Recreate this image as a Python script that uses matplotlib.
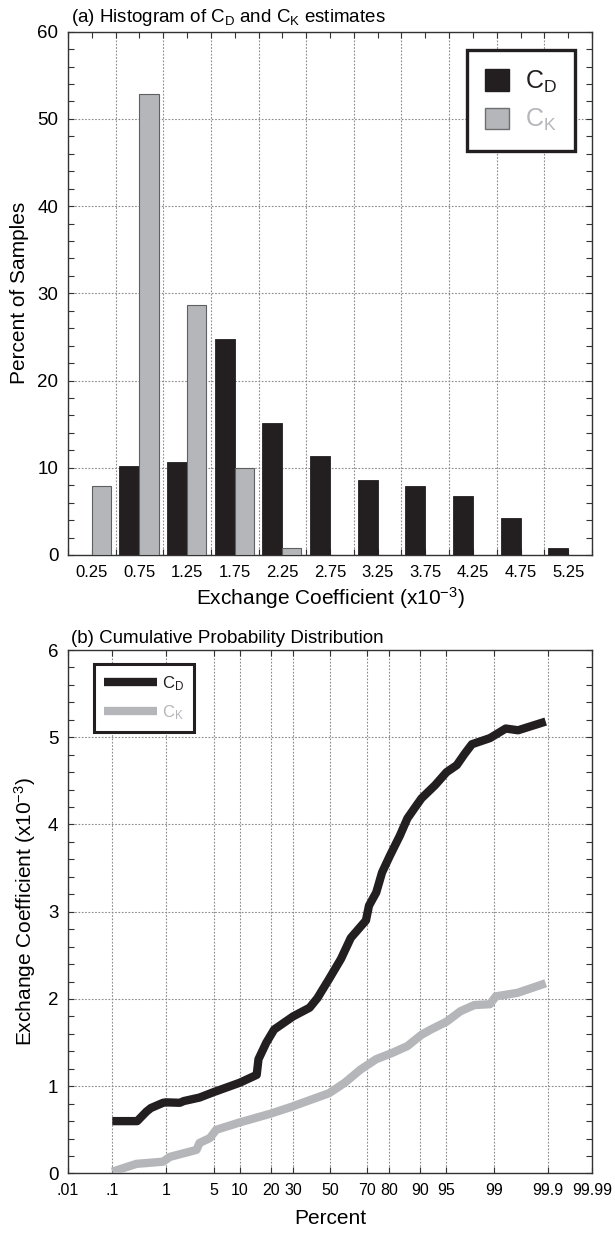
from statistics import NormalDist

import numpy as np
from matplotlib import pyplot as plt
from matplotlib.lines import Line2D
from matplotlib.patches import Patch
from matplotlib.ticker import FixedLocator, MultipleLocator

plt.rcParams['font.family'] = ['Liberation Sans', 'DejaVu Sans']

# (a) histogram, percent of samples per bin
bin_centers = [0.25, 0.75, 1.25, 1.75, 2.25, 2.75, 3.25, 3.75, 4.25, 4.75, 5.25]
bin_labels = ['0.25', '0.75', '1.25', '1.75', '2.25', '2.75', '3.25', '3.75', '4.25', '4.75', '5.25']
cd_pct = [0, 10.2, 10.7, 24.8, 15.1, 11.4, 8.6, 7.9, 6.8, 4.2, 0.8]
ck_pct = [7.9, 52.8, 28.7, 10.0, 0.8, 0, 0, 0, 0, 0, 0]

# (b) cumulative distribution, percentile vs coefficient
cd_prob = [0.1, 0.31, 0.46, 0.55, 0.89, 1.0, 1.65, 1.9, 3.2, 4.85, 10, 14.9, 15.5, 18.3,
           21.4, 30, 38.6, 42.9, 49.5, 56.2, 61.6, 69.5, 71.0, 74.4, 77.0, 80.2, 83.9,
           86.4, 88.7, 90.3, 93.2, 95.1, 96.4, 97.2, 97.8, 98.84, 99.37, 99.62, 99.89]
cd_val = [0.60, 0.60, 0.71, 0.75, 0.81, 0.815, 0.81, 0.83, 0.87, 0.93, 1.04, 1.13, 1.31, 1.50,
          1.65, 1.80, 1.90, 2.01, 2.23, 2.46, 2.70, 2.90, 3.07, 3.22, 3.45, 3.64, 3.87,
          4.07, 4.20, 4.30, 4.45, 4.60, 4.68, 4.81, 4.92, 4.99, 5.10, 5.08, 5.18]
ck_prob = [0.1, 0.30, 0.89, 1.15, 2.08, 2.9, 3.2, 4.4, 5.3, 10, 19.9, 30, 32.3, 49.5, 58.3,
           66.7, 74.4, 81, 86.4, 90.3, 92.4, 95.1, 96.8, 97.97, 98.84, 99.07, 99.61, 99.89]
ck_val = [0.02, 0.11, 0.135, 0.19, 0.24, 0.27, 0.35, 0.405, 0.50, 0.585, 0.685, 0.77, 0.79, 0.92,
          1.04, 1.19, 1.31, 1.38, 1.46, 1.59, 1.65, 1.74, 1.86, 1.93, 1.94, 2.03, 2.07, 2.18]
prob_ticks = [0.01, 0.1, 1, 5, 10, 20, 30, 50, 70, 80, 90, 95, 99, 99.9, 99.99]
prob_labels = ['.01', '.1', '1', '5', '10', '20', '30', '50', '70', '80', '90', '95', '99', '99.9', '99.99']

BLACK = '#231f20'
GRAY = '#b5b6b9'
GRID = dict(color='#8a8a8a', linestyle=(0, (1.5, 1.5)), linewidth=0.8)
TITLE_FONT = ['Liberation Sans Narrow', 'Liberation Sans']

nd = NormalDist()
_ppf = np.vectorize(nd.inv_cdf, otypes=[float])
_cdf = np.vectorize(nd.cdf, otypes=[float])


def prob_fwd(p):
    p = np.clip(np.asarray(p, dtype=float) / 100.0, 1e-9, 1 - 1e-9)
    return _ppf(p)


def prob_inv(z):
    return _cdf(np.asarray(z, dtype=float)) * 100.0


def style_axes(ax):
    for s in ax.spines.values():
        s.set_color('#333333')
        s.set_linewidth(1.0)
    ax.tick_params(which='both', direction='in', top=True, right=True, length=4,
                   width=0.8, color='#333333')


fig = plt.figure(figsize=(6.15, 12.36), dpi=100)

# ---- (a) histogram
ax1 = fig.add_axes([0.1106, 0.551, 0.852, 0.4234])
x = np.array(bin_centers)
cd = np.array(cd_pct)
ck = np.array(ck_pct)
ax1.bar(x[cd > 0], cd[cd > 0], width=-0.21, align='edge', color=BLACK,
        edgecolor=BLACK, linewidth=0.6, zorder=3)
ax1.bar(x[ck > 0], ck[ck > 0], width=0.2, align='edge', color=GRAY,
        edgecolor='#5e5f61', linewidth=0.8, zorder=3)
ax1.set_xlim(0, 5.5)
ax1.set_ylim(0, 60)
ax1.set_xticks(bin_centers)
ax1.set_xticklabels(bin_labels)
ax1.xaxis.set_minor_locator(MultipleLocator(0.5))
ax1.yaxis.set_major_locator(MultipleLocator(10))
ax1.yaxis.set_minor_locator(MultipleLocator(2))
ax1.grid(False)
ax1.grid(True, axis='x', which='minor', **GRID)
ax1.grid(True, axis='y', which='major', **GRID)
style_axes(ax1)
ax1.tick_params(axis='x', labelsize=12, pad=7)
ax1.tick_params(axis='y', labelsize=13.5, pad=7)
ax1.set_xlabel(r'Exchange Coefficient (x10$\mathregular{^{-3}}$)', fontsize=15, labelpad=4)
ax1.set_ylabel('Percent of Samples', fontsize=15, labelpad=6)
ax1.text(0.005, 1.018, r'(a) Histogram of $\mathregular{C_D}$ and $\mathregular{C_K}$ estimates',
         transform=ax1.transAxes, fontsize=13.5, family=TITLE_FONT, va='baseline', ha='left')

hist_handles = [Patch(facecolor=BLACK, edgecolor=BLACK),
                Patch(facecolor=GRAY, edgecolor='#6d6e70')]
leg1 = ax1.legend(hist_handles, [r'$\mathregular{C_D}$', r'$\mathregular{C_K}$'],
                  loc='upper right', bbox_to_anchor=(0.968, 0.964), borderaxespad=0,
                  fontsize=18, handlelength=0.95, handleheight=0.95, handletextpad=0.65,
                  borderpad=0.72, labelspacing=0.5, fancybox=False, framealpha=1,
                  labelcolor=[BLACK, GRAY])
leg1.get_frame().set_edgecolor(BLACK)
leg1.get_frame().set_linewidth(2.4)

# ---- (b) cumulative probability
ax2 = fig.add_axes([0.1106, 0.0506, 0.852, 0.4235])
ax2.set_xscale('function', functions=(prob_fwd, prob_inv))
ax2.plot(cd_prob, cd_val, color=BLACK, linewidth=6, solid_capstyle='butt',
         solid_joinstyle='round', zorder=3)
ax2.plot(ck_prob, ck_val, color=GRAY, linewidth=6, solid_capstyle='butt',
         solid_joinstyle='round', zorder=3)
ax2.set_xlim(0.01, 99.99)
ax2.set_ylim(0, 6)
ax2.xaxis.set_major_locator(FixedLocator(prob_ticks))
ax2.set_xticklabels(prob_labels)
ax2.xaxis.set_minor_locator(FixedLocator([]))
ax2.yaxis.set_major_locator(MultipleLocator(1))
ax2.yaxis.set_minor_locator(MultipleLocator(0.2))
ax2.grid(True, which='major', **GRID)
style_axes(ax2)
ax2.tick_params(axis='x', labelsize=11.5, pad=7)
ax2.tick_params(axis='y', labelsize=13.5, pad=7)
ax2.set_xlabel('Percent', fontsize=15, labelpad=8)
ax2.set_ylabel(r'Exchange Coefficient (x10$\mathregular{^{-3}}$)', fontsize=15, labelpad=7)
ax2.text(0.005, 1.014, '(b) Cumulative Probability Distribution',
         transform=ax2.transAxes, fontsize=13.5, family=TITLE_FONT, va='baseline', ha='left')

cdf_handles = [Line2D([], [], color=BLACK, linewidth=6, solid_capstyle='butt'),
               Line2D([], [], color=GRAY, linewidth=6, solid_capstyle='butt')]
leg2 = ax2.legend(cdf_handles, [r'$\mathregular{C_D}$', r'$\mathregular{C_K}$'],
                  loc='upper left', bbox_to_anchor=(0.0496, 0.973), borderaxespad=0,
                  fontsize=12, handlelength=3.2, handletextpad=0.3, borderpad=0.6,
                  labelspacing=0.6, fancybox=False, framealpha=1,
                  labelcolor=[BLACK, GRAY])
leg2.get_frame().set_edgecolor(BLACK)
leg2.get_frame().set_linewidth(2.2)

fig.savefig('out.png', dpi=100)
